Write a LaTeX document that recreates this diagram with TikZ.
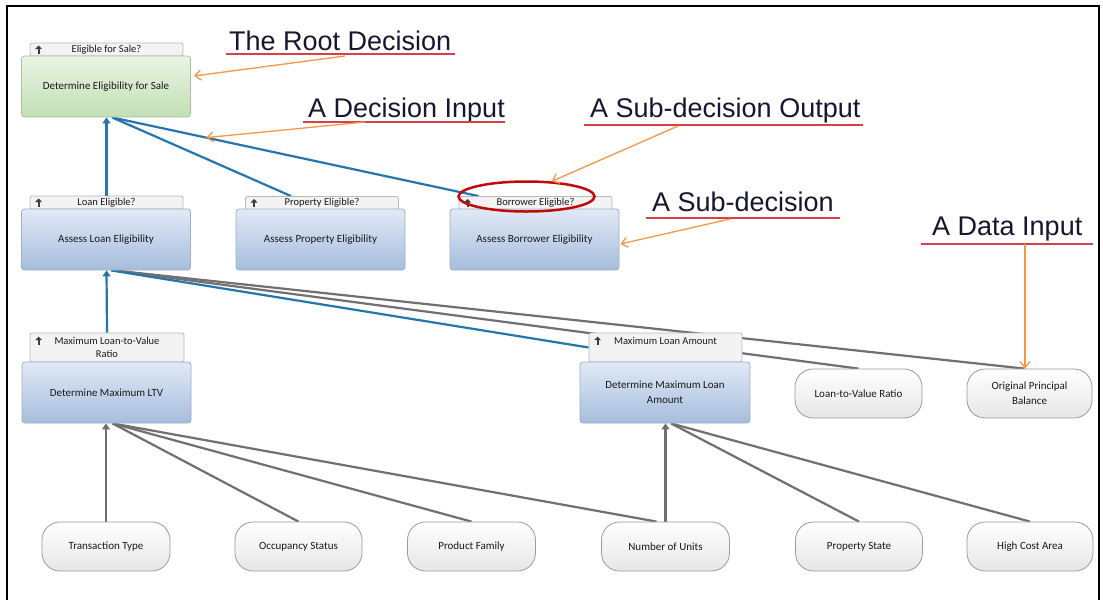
\documentclass[tikz,border=0pt]{standalone}
\usepackage{fontspec}
\setmainfont{Carlito}
\newfontfamily\annfont{Liberation Sans}
\usetikzlibrary{shapes.geometric,arrows.meta,calc}
\pgfdeclarelayer{back}
\pgfdeclarelayer{bg}
\pgfsetlayers{back,bg,main}
\definecolor{connblue}{RGB}{36,118,171}
\definecolor{conngray}{RGB}{112,112,112}
\definecolor{annorange}{RGB}{247,150,70}
\definecolor{ulred}{RGB}{214,64,72}
\definecolor{ellred}{RGB}{192,10,10}
\definecolor{dectop}{RGB}{225,233,245}
\definecolor{decbot}{RGB}{166,189,221}
\definecolor{decborder}{RGB}{158,174,198}
\definecolor{grntop}{RGB}{234,244,228}
\definecolor{grnbot}{RGB}{194,223,180}
\definecolor{grnborder}{RGB}{168,196,156}
\definecolor{tabfill}{RGB}{243,243,243}
\definecolor{tabborder}{RGB}{185,185,185}
\definecolor{pillbot}{RGB}{230,230,230}
\definecolor{pillborder}{RGB}{155,155,155}
\definecolor{txt}{RGB}{25,25,25}
\definecolor{anntxt}{RGB}{22,22,48}
\definecolor{icongray}{RGB}{60,60,60}
\newcommand\tabicon[2]{\draw[icon] (#1) ++(9,#2+4) -- ++(0,-8);}
\begin{document}
\begin{tikzpicture}[x=1pt,y=-1pt,
  decbox/.style={draw=decborder, line width=0.8pt, rounded corners=3pt, top color=dectop, bottom color=decbot,
     minimum width=169pt, minimum height=61pt, inner sep=2pt, align=center, text=txt,
     font=\fontsize{11}{15}\selectfont},
  rootbox/.style={decbox, draw=grnborder, top color=grntop, bottom color=grnbot},
  tabbox/.style={draw=tabborder, line width=0.8pt, fill=tabfill, rounded corners=2pt,
     minimum width=153pt, minimum height=13pt, inner sep=0pt, align=center, text=txt,
     font=\fontsize{10.5}{13}\selectfont},
  pill/.style={draw=pillborder, line width=0.8pt, rounded corners=18pt, top color=white, bottom color=pillbot,
     minimum width=127pt, minimum height=49pt, inner sep=2pt, align=center, text=txt,
     font=\fontsize{11}{15}\selectfont},
  icon/.style={draw=icongray, line width=2pt, -{Triangle[length=3.5pt,width=6.5pt]}},
  bconn/.style={draw=connblue, line width=2.2pt},
  gconn/.style={draw=conngray, line width=2.2pt},
  tip/.style={-{Triangle[length=6pt,width=8pt]}},
  anntext/.style={inner sep=0pt, text=anntxt, font=\annfont\fontsize{27}{30}\selectfont},
  uline/.style={draw=ulred, line width=2pt},
  ann/.style={draw=annorange, line width=1.3pt, -{Straight Barb[length=6pt,width=10pt]}},
  frame/.style={draw=black, line width=1.5pt}
]
\useasboundingbox (0,0) rectangle (1103,600);
\begin{pgfonlayer}{back}
\fill[white] (0,0) rectangle (1103,600);
\end{pgfonlayer}
\draw[frame] (7,600) -- (7,6) -- (1099,6) -- (1099,600);

% decision tabs
\node[tabbox] (roottab) at (106.5,49.5) {Eligible for Sale?};
\node[tabbox] (loantab) at (106.5,202.5) {Loan Eligible?};
\node[tabbox] (proptab) at (322,203) {Property Eligible?};
\node[tabbox] (borrtab) at (535.5,203) {Borrower Eligible?};
\node[tabbox, minimum height=29pt, minimum width=154pt] (ltvtab) at (107,347.5) {Maximum Loan-to-Value\\Ratio};
\node[tabbox, minimum height=29pt] (mlatab) at (665.5,347.5) {Maximum Loan Amount\\\mbox{}};

% decision bodies
\node[rootbox] (root) at (106,86.5) {Determine Eligibility for Sale};
\node[decbox] (loan) at (106,239.5) {Assess Loan Eligibility};
\node[decbox] (prop) at (320.5,239.5) {Assess Property Eligibility};
\node[decbox] (borr) at (534.5,239.5) {Assess Borrower Eligibility};
\node[decbox] (ltv) at (106.5,392.5) {Determine Maximum LTV};
\node[decbox, minimum width=170pt] (mla) at (665,392.5) {Determine Maximum Loan\\Amount};

% data inputs
\node[pill] (ltvr) at (858.5,393.5) {Loan-to-Value Ratio};
\node[pill, minimum width=125pt] (opb) at (1029.5,393.5) {Original Principal\\Balance};
\node[pill, minimum width=128pt] (tt) at (106,546.5) {Transaction Type};
\node[pill] (occ) at (298.5,546.5) {Occupancy Status};
\node[pill, minimum width=128pt] (pf) at (471.5,546.5) {Product Family};
\node[pill, minimum width=128pt] (nu) at (665.5,546.5) {Number of Units};
\node[pill] (ps) at (859,546.5) {Property State};
\node[pill, minimum width=126pt] (hca) at (1030,546.5) {High Cost Area};

% tab icons
\tabicon{roottab.west}{0}
\tabicon{loantab.west}{0}
\tabicon{proptab.west}{0}
\tabicon{borrtab.west}{0}
\tabicon{ltvtab.north west}{8}
\tabicon{mlatab.north west}{8}

% connectors
\coordinate (rootin) at ($(root.south)+(6,0)$);
\coordinate (borrout) at ($(borrtab.north west)+(20,0)$);
\coordinate (loanin) at ($(loan.south)+(8,0)$);
\coordinate (ltvin) at ($(ltv.south)+(6,0)$);
\coordinate (mlain) at ($(mla.south)+(6,0)$);
\begin{pgfonlayer}{bg}
\draw[gconn] (ltvr.north) -- (loanin);
\draw[gconn] ($(opb.north)+(-5,0)$) -- (loanin);
\draw[bconn] (mlatab.west) -- ($(loan.south)+(5,0)$);
\draw[bconn, tip] (ltvtab.north) -- (ltv.north |- loan.south);
\draw[bconn] ($(proptab.north west)+(46,0)$) -- (rootin);
\draw[bconn] (borrout) -- (rootin);
\draw[bconn, tip] (loantab.north) -- (loantab.north |- root.south);
\draw[gconn] (occ.north) -- (ltvin);
\draw[gconn] (pf.north) -- (ltvin);
\draw[gconn] ($(nu.north)+(-9,0)$) -- (ltvin);
\draw[gconn, tip] (tt.north) -- (tt.north |- ltv.south);
\draw[gconn] (ps.north) -- (mlain);
\draw[gconn] (hca.north) -- (mlain);
\draw[gconn, tip] (nu.north) -- (nu.north |- mla.south);
\end{pgfonlayer}

% highlight ellipse
\node[ellipse, draw=ellred, line width=2.5pt, minimum width=136pt, minimum height=30pt, inner sep=0pt] (ell) at (526.5,196.5) {};

% annotations
\node[anntext, anchor=base west] (t1) at (229,50) {The Root Decision};
\node[anntext, anchor=base west] (t2) at (308,117) {A Decision Input};
\node[anntext, anchor=base west] (t3) at (590,117) {A Sub-decision Output};
\node[anntext, anchor=base west] (t4) at (652,211) {A Sub-decision};
\node[anntext, anchor=base west] (t5) at (932,235) {A Data Input};

\draw[uline] (226,54) -- (455,54);
\draw[uline] (303,122) -- (505,122);
\draw[uline] (584,125) -- (863,125);
\draw[uline] (646,218) -- (840,218);
\draw[uline] (921,244) -- (1093,244);

\coordinate (a1) at (345,56);
\coordinate (a2) at (365,122);
\coordinate (a3) at (678,126);
\coordinate (a4) at (730,219);
\coordinate (a5) at (1025,244);
\draw[ann] (a1) -- ($(root.east)+(3,-10.5)$);
\draw[ann] (a2) -- ($(rootin)!0.257!(borrout)$);
\draw[ann] (a3) -- (ell.31);
\draw[ann] (a4) -- ($(borr.east)+(1,4.5)$);
\draw[ann] (a5) -- (a5 |- opb.north);
\end{tikzpicture}
\end{document}
